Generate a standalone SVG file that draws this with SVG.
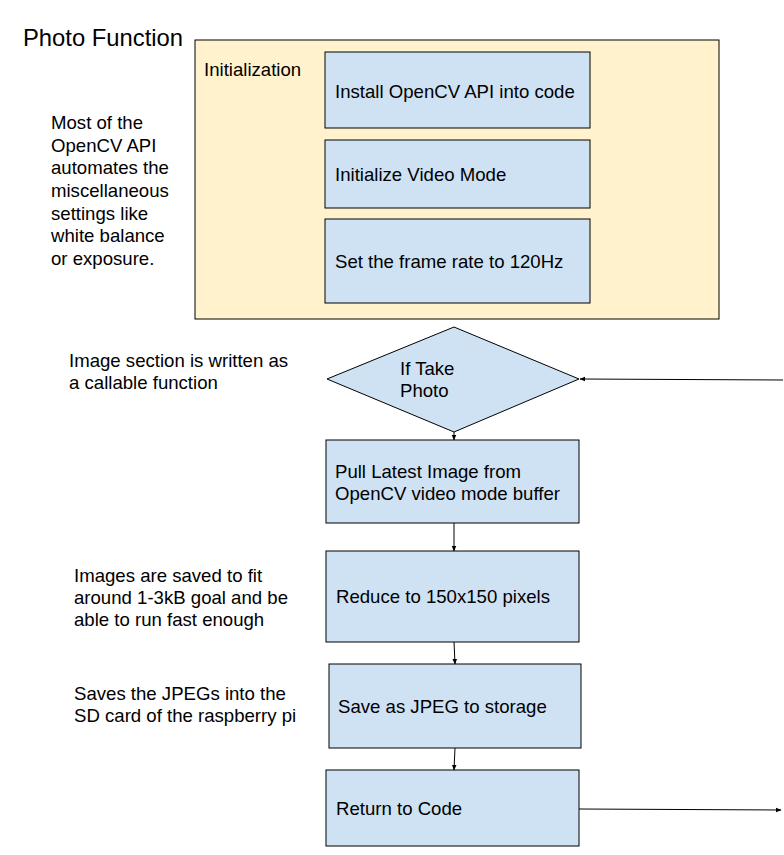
<svg xmlns="http://www.w3.org/2000/svg" width="784" height="855" viewBox="0 0 784 855">
<defs>
<style>
text{font-family:"Liberation Sans",Arial,sans-serif;font-size:18.6px;fill:#000}
.title{font-size:23.8px}
.box{fill:#cfe2f3;stroke:#000;stroke-width:1}
.outer{fill:#fff2cc;stroke:#000;stroke-width:1}
.con{stroke:#000;stroke-width:1;fill:none;marker-end:url(#ah)}
</style>
<marker id="ah" viewBox="0 0 10 10" refX="9" refY="5" markerWidth="6" markerHeight="6" orient="auto" markerUnits="userSpaceOnUse"><path d="M0,1 L10,5 L0,9 Z" fill="#000"/></marker>
</defs>
<rect width="784" height="855" fill="#fff"/>
<text class="title" x="23" y="46">Photo Function</text>
<g id="init">
<rect class="outer" x="195" y="40" width="524" height="279"/>
<text x="204" y="76">Initialization</text>
</g>
<g id="install"><rect class="box" x="325" y="52" width="265" height="76"/><text x="335" y="98">Install OpenCV API into code</text></g>
<g id="video"><rect class="box" x="325" y="140" width="265" height="68"/><text x="335" y="181">Initialize Video Mode</text></g>
<g id="framerate"><rect class="box" x="325" y="219" width="265" height="84"/><text x="335" y="268">Set the frame rate to 120Hz</text></g>
<g id="note1"><text x="51" y="129">Most of the</text><text x="51" y="152">OpenCV API</text><text x="51" y="174">automates the</text><text x="51" y="197">miscellaneous</text><text x="51" y="220">settings like</text><text x="51" y="242">white balance</text><text x="51" y="265">or exposure.</text></g>
<g id="decision"><polygon class="box" points="327,379 454,327 579,379 454,432"/><text x="400" y="375">If Take</text><text x="400" y="397">Photo</text></g>
<g id="note2"><text x="69" y="367">Image section is written as</text><text x="69" y="389">a callable function</text></g>
<g id="pull"><rect class="box" x="326" y="440" width="253" height="83"/><text x="335" y="478">Pull Latest Image from</text><text x="335" y="500">OpenCV video mode buffer</text></g>
<g id="reduce"><rect class="box" x="326" y="551" width="253" height="91"/><text x="336" y="603">Reduce to 150x150 pixels</text></g>
<g id="note3"><text x="74" y="582">Images are saved to fit</text><text x="74" y="604">around 1-3kB goal and be</text><text x="74" y="626">able to run fast enough</text></g>
<g id="save"><rect class="box" x="329" y="664" width="252" height="84"/><text x="338" y="713">Save as JPEG to storage</text></g>
<g id="note4"><text x="74" y="700">Saves the JPEGs into the</text><text x="74" y="722">SD card of the raspberry pi</text></g>
<g id="return"><rect class="box" x="326" y="770" width="253" height="76"/><text x="336" y="815">Return to Code</text></g>
<g id="connectors">
<path class="con" d="M783,380 L580,379"/>
<path class="con" d="M454,432 L454,440"/>
<path class="con" d="M454,523 L454,551"/>
<path class="con" d="M454,642 L455,664"/>
<path class="con" d="M455,748 L454,770"/>
<path class="con" d="M579,809 L781,810"/>
</g>
</svg>
